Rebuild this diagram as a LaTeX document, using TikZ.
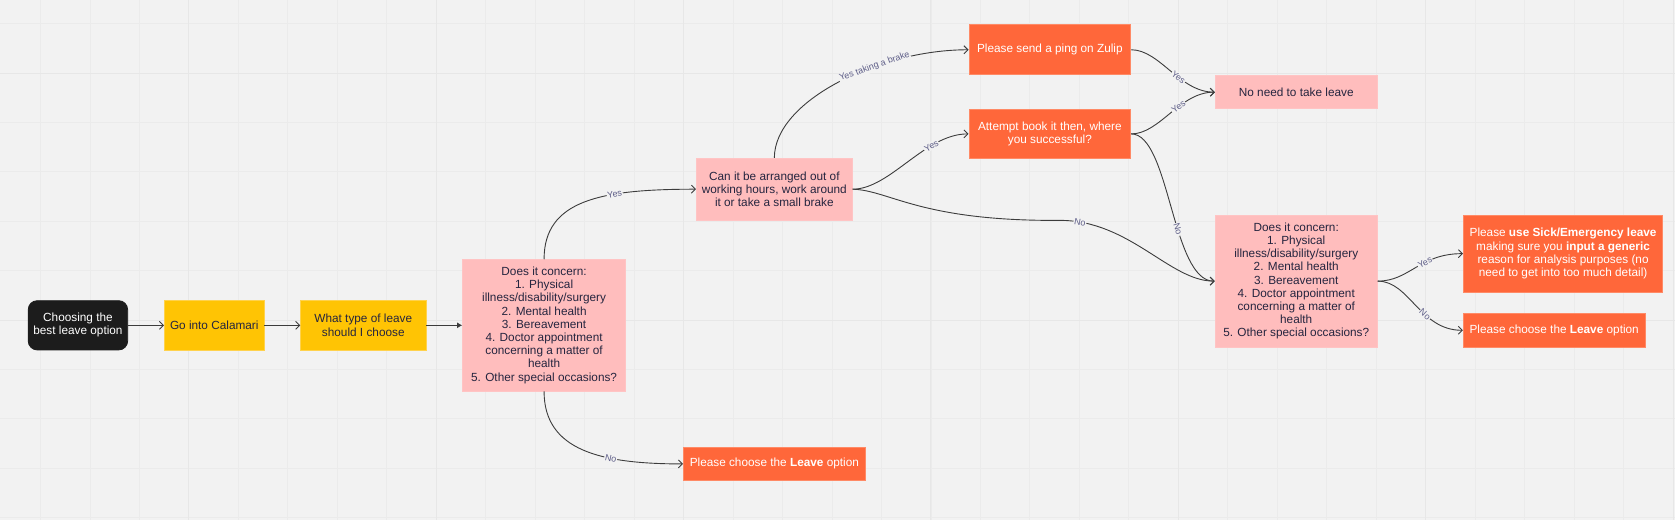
\documentclass[tikz,border=0pt]{standalone}
\usepackage{fontspec}
\setmainfont{Liberation Sans}
\usetikzlibrary{arrows.meta}
\definecolor{bgc}{HTML}{F2F2F2}
\definecolor{gridminor}{HTML}{EBEBEB}
\definecolor{gridmajor}{HTML}{E7E7E7}
\definecolor{pinkc}{HTML}{FFBDBD}
\definecolor{pinkb}{HTML}{FFC4C4}
\definecolor{orc}{HTML}{FF673A}
\definecolor{orb}{HTML}{FF8A66}
\definecolor{yelc}{HTML}{FFC404}
\definecolor{yelb}{HTML}{FFD24D}
\definecolor{darkc}{HTML}{1C1C1C}
\definecolor{txtc}{HTML}{25253F}
\definecolor{edgec}{HTML}{3C3C3C}
\definecolor{lblc}{HTML}{5E5E88}
\newcommand\boxfont{\fontsize{11.8}{13.2}\selectfont}
\begin{document}
\begin{tikzpicture}[x=1pt,y=-1pt,
  basebox/.style={inner sep=0pt, align=center, font=\boxfont, line width=0.8pt},
  pinkbox/.style={basebox, fill=pinkc, draw=pinkb, text=txtc},
  orbox/.style={basebox, fill=orc, draw=orb, text=white},
  yelbox/.style={basebox, fill=yelc, draw=yelb, text=txtc},
  startbox/.style={basebox, fill=darkc, draw=darkc, text=white, rounded corners=9pt},
  conn/.style={draw=edgec, line width=0.9pt, -{Straight Barb[length=4pt,width=8pt]}},
  lbl/.style={font=\fontsize{9}{10}\selectfont, text=lblc, fill=bgc, inner sep=0.8pt, sloped}
]
% background and grid
\fill[bgc] (0,0) rectangle (1675,520);
\foreach \i in {0,...,33} {
  \pgfmathsetmacro\xx{40+49.5*\i}
  \draw[gridminor, line width=0.8pt] (\xx,0) -- (\xx,520);
}
\foreach \i in {0,...,10} {
  \pgfmathsetmacro\yy{23.3+49.4*\i}
  \draw[gridminor, line width=0.8pt] (0,\yy) -- (1675,\yy);
}
\foreach \xx in {188.5,436,683.5,931,1178.5,1426,1673.5}
  \draw[gridmajor, line width=1pt] (\xx,0) -- (\xx,520);
\foreach \yy in {72.7,319.7}
  \draw[gridmajor, line width=1pt] (0,\yy) -- (1675,\yy);

% nodes
\node[startbox, minimum width=99.5pt, minimum height=49.3pt] (start) at (77.5,325) {Choosing the\\best leave option};
\node[yelbox, minimum width=99.7pt, minimum height=50pt] (calamari) at (213.9,325) {Go into Calamari};
\node[yelbox, minimum width=125.3pt, minimum height=50pt] (whattype) at (363,325) {What type of leave\\should I choose};
\node[pinkbox, minimum width=163pt, minimum height=131.4pt] (box1) at (543.9,325) {Does it concern:\\1. Physical\\illness/disability/surgery\\2. Mental health\\3. Bereavement\\4. Doctor appointment\\concerning a matter of\\health\\5. Other special occasions?};
\node[pinkbox, minimum width=156pt, minimum height=61.7pt] (can) at (774.3,188.8) {Can it be arranged out of\\working hours, work around\\it or take a small brake};
\node[orbox, minimum width=162pt, minimum height=50pt] (zulip) at (1050,49.3) {Please send a ping on Zulip};
\node[orbox, minimum width=162pt, minimum height=49.6pt] (attempt) at (1050,133.5) {Attempt book it then, where\\you successful?};
\node[pinkbox, minimum width=162pt, minimum height=33.3pt] (noneed) at (1296.5,91.7) {No need to take leave};
\node[pinkbox, minimum width=162.3pt, minimum height=131.7pt] (box2) at (1296.5,280.8) {Does it concern:\\1. Physical\\illness/disability/surgery\\2. Mental health\\3. Bereavement\\4. Doctor appointment\\concerning a matter of\\health\\5. Other special occasions?};
\node[orbox, minimum width=199.5pt, minimum height=76.7pt] (sick) at (1563.5,253.3) {Please \textbf{use Sick/Emergency leave}\\making sure you \textbf{input a generic}\\reason for analysis purposes (no\\need to get into too much detail)};
\node[orbox, minimum width=181.8pt, minimum height=33.4pt] (leave2) at (1554.6,330) {Please choose the \textbf{Leave} option};
\node[orbox, minimum width=182pt, minimum height=33.3pt] (leave1) at (774.3,463.7) {Please choose the \textbf{Leave} option};

% connectors
\draw[conn] (start.east) -- (calamari.west);
\draw[conn] (calamari.east) -- (whattype.west);
\draw[draw=edgec, line width=1.1pt, -{Latex[length=5pt,width=6pt]}] (whattype.east) -- (box1.west);
\draw[conn] (box1.north) .. controls (543.9,200) and (600,188.8) .. (can.west) node[lbl,pos=0.67] {Yes};
\draw[conn] (box1.south) .. controls (543.9,450) and (600,463.7) .. (leave1.west) node[lbl,pos=0.67] {No};
\draw[conn] (can.north) .. controls (774.3,100) and (880,49.3) .. (zulip.west) node[lbl,pos=0.65] {Yes taking a brake};
\draw[conn] (can.east) .. controls (890,188.8) and (925,133.5) .. (attempt.west) node[lbl,pos=0.7] {Yes};
\coordinate (nomid) at (1060,220);
\draw[conn] (can.east) .. controls (890,190) and (920,221) .. (nomid) .. controls (1130,220) and (1170,280.8) .. (box2.west) node[lbl,pos=0.1] {No};
\draw[conn] (attempt.east) .. controls (1170,133.5) and (1172,280.8) .. (box2.west) node[lbl,pos=0.6] {No};
\draw[conn] (zulip.east) .. controls (1160,49.3) and (1180,91.7) .. (noneed.west) node[lbl,pos=0.6] {Yes};
\draw[conn] (attempt.east) .. controls (1160,133.5) and (1180,91.7) .. (noneed.west) node[lbl,pos=0.6] {Yes};
\draw[conn] (box2.east) .. controls (1410,280.8) and (1420,253.3) .. (sick.west) node[lbl,pos=0.62] {Yes};
\draw[conn] (box2.east) .. controls (1410,280.8) and (1420,330) .. (leave2.west) node[lbl,pos=0.62] {No};
\end{tikzpicture}
\end{document}
